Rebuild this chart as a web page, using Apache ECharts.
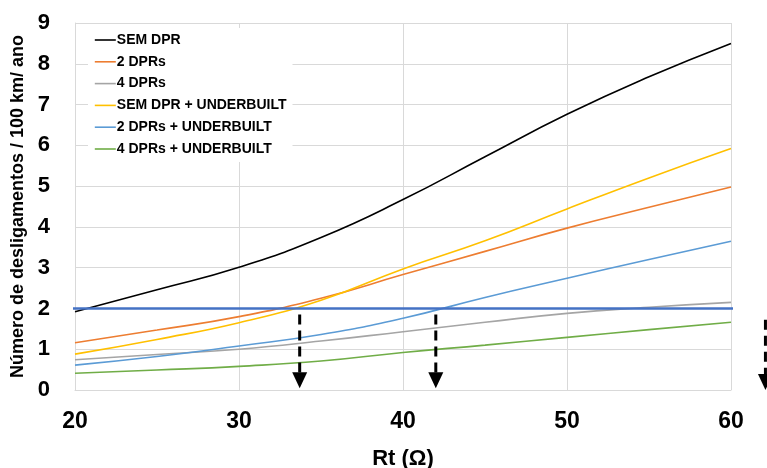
<!DOCTYPE html>
<html>
<head>
<meta charset="utf-8">
<script src="https://cdn.jsdelivr.net/npm/echarts@6/dist/echarts.min.js"></script>
<style>
html,body{margin:0;padding:0;background:#fff;}
#chart{width:767px;height:468px;}
</style>
</head>
<body>
<div id="chart"></div>
<script>
// Rt (Ω) sample points
const rt = [20, 25, 30, 35, 40, 45, 50, 55, 60];
const semDpr       = [1.92, 2.46, 3.01, 3.74, 4.67, 5.72, 6.76, 7.68, 8.50];
const dprs2        = [1.16, 1.47, 1.80, 2.25, 2.83, 3.40, 3.97, 4.48, 4.98];
const dprs4        = [0.74, 0.87, 1.00, 1.20, 1.43, 1.66, 1.88, 2.03, 2.15];
const semDprUb     = [0.88, 1.24, 1.65, 2.20, 2.97, 3.66, 4.44, 5.20, 5.92];
const dprs2Ub      = [0.61, 0.82, 1.08, 1.36, 1.76, 2.27, 2.74, 3.20, 3.65];
const dprs4Ub      = [0.41, 0.49, 0.58, 0.71, 0.92, 1.10, 1.29, 1.48, 1.66];
const seriesNames  = ['SEM DPR', '2 DPRs', '4 DPRs', 'SEM DPR + UNDERBUILT', '2 DPRs + UNDERBUILT', '4 DPRs + UNDERBUILT'];
const seriesValues = [semDpr, dprs2, dprs4, semDprUb, dprs2Ub, dprs4Ub];
const seriesColors = ['#000000', '#ED7D31', '#A5A5A5', '#FFC000', '#5B9BD5', '#70AD47'];
// threshold (2 desligamentos) line ends
const limitX = [19.65, 60.2];
const limitY = [2, 2];
// dashed arrows: x, top y, tip y
const arrowX    = [33.7, 42.0, 62.1];
const arrowTop  = [1.85, 1.85, 1.72];
const arrowTip  = [0.04, 0.04, 0.0];
const xTicks = [20, 30, 40, 50, 60];
const yTicks = [0, 1, 2, 3, 4, 5, 6, 7, 8, 9];

const chart = echarts.init(document.getElementById('chart'), null, {renderer: 'canvas'});

const lineSeries = seriesNames.map((n, i) => ({
  name: n,
  type: 'line',
  data: rt.map((x, j) => [x, seriesValues[i][j]]),
  smooth: 0.5,
  symbol: 'none',
  lineStyle: {color: seriesColors[i], width: 1.6},
  itemStyle: {color: seriesColors[i]},
  z: 3
}));

const option = {
  animation: false,
  backgroundColor: '#fff',
  grid: {left: 75, right: 36, top: 23, bottom: 78, containLabel: false, outerBoundsMode: 'none'},
  legend: {
    data: seriesNames,
    orient: 'vertical',
    left: 88,
    top: 28,
    padding: [5, 6, 6, 6],
    backgroundColor: '#fff',
    itemWidth: 21,
    itemHeight: 14,
    itemGap: 7.8,
    z: 10,
    itemStyle: {opacity: 0},
    lineStyle: {width: 1.6},
    textStyle: {fontFamily: 'Liberation Sans, Arial, sans-serif', fontWeight: 'bold', fontSize: 14, color: '#000', padding: [0, 0, 0, -4]}
  },
  xAxis: {
    type: 'value',
    min: 20, max: 60, interval: 10,
    name: 'Rt (Ω)',
    nameLocation: 'middle',
    nameGap: 58,
    nameMoveOverlap: false,
    nameTextStyle: {fontFamily: 'Liberation Sans, Arial, sans-serif', fontWeight: 'bold', fontSize: 22, color: '#000'},
    axisLine: {show: true, lineStyle: {color: '#d9d9d9', width: 1}},
    axisTick: {show: false},
    splitLine: {show: true, lineStyle: {color: '#d9d9d9', width: 1}},
    axisLabel: {
      margin: 20,
      fontFamily: 'Liberation Sans, Arial, sans-serif', fontWeight: 'bold', fontSize: 23, color: '#000',
      formatter: v => xTicks.includes(v) ? String(v) : ''
    }
  },
  yAxis: {
    type: 'value',
    min: 0, max: 9, interval: 1,
    name: 'Número de desligamentos / 100 km/ ano',
    nameLocation: 'middle',
    nameGap: 48,
    nameMoveOverlap: false,
    nameTextStyle: {fontFamily: 'Liberation Sans, Arial, sans-serif', fontWeight: 'bold', fontSize: 18, color: '#000'},
    axisLine: {show: true, lineStyle: {color: '#d9d9d9', width: 1}},
    axisTick: {show: false},
    splitLine: {show: true, lineStyle: {color: '#d9d9d9', width: 1}},
    axisLabel: {
      margin: 25,
      fontFamily: 'Liberation Sans, Arial, sans-serif', fontWeight: 'bold', fontSize: 22, color: '#000',
      formatter: v => yTicks.includes(v) ? String(v) : ''
    }
  },
  series: [
    ...lineSeries,
    {
      name: 'limite',
      type: 'line',
      data: limitX.map((x, i) => [x, limitY[i]]),
      symbol: 'none',
      clip: false,
      lineStyle: {color: '#4472C4', width: 2.6},
      z: 4
    },
    {
      name: 'setas',
      type: 'custom',
      clip: false,
      z: 5,
      data: arrowX.map((x, i) => [x, arrowTop[i], arrowTip[i]]),
      renderItem: function (params, api) {
        const x = api.value(0);
        const pTop = api.coord([x, api.value(1)]);
        const pTip = api.coord([x, api.value(2)]);
        const headH = 16, headW = 15;
        return {
          type: 'group',
          children: [
            {
              type: 'line',
              shape: {x1: pTop[0], y1: pTop[1], x2: pTip[0], y2: pTip[1] - headH + 1},
              style: {stroke: '#000', lineWidth: 3, lineDash: [10, 6]}
            },
            {
              type: 'polygon',
              shape: {points: [[pTip[0] - headW / 2, pTip[1] - headH], [pTip[0] + headW / 2, pTip[1] - headH], [pTip[0], pTip[1]]]},
              style: {fill: '#000'}
            }
          ]
        };
      }
    }
  ]
};
chart.setOption(option);
</script>
</body>
</html>
